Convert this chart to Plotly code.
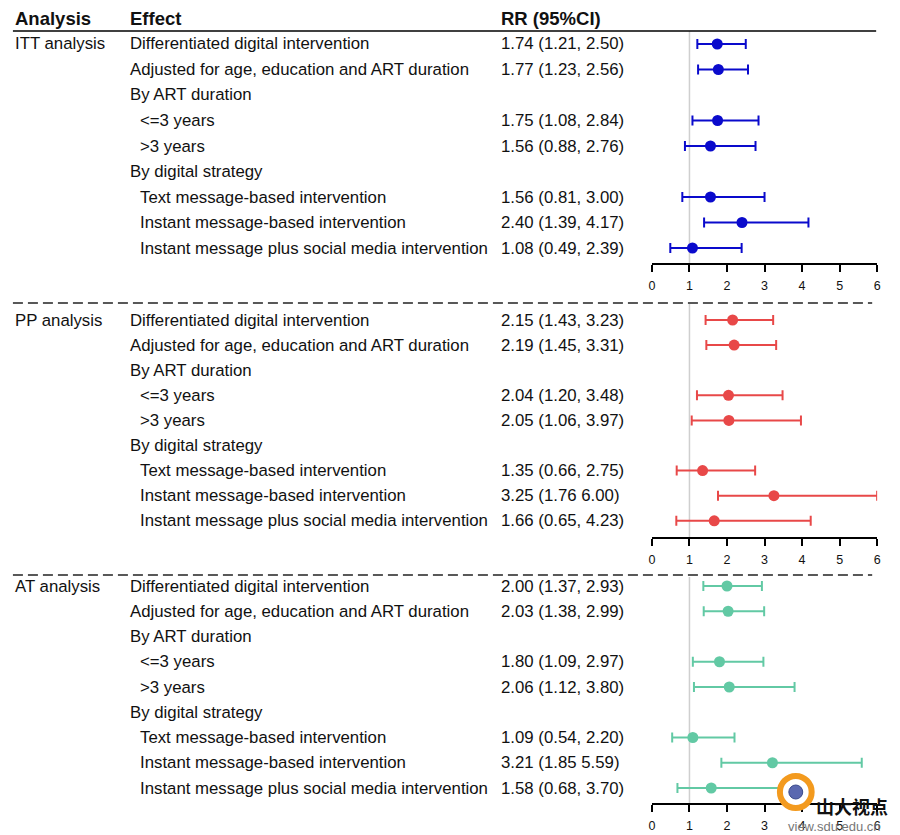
import plotly.graph_objects as go

W, H = 900, 835
FONT = "Liberation Sans, Arial, sans-serif"

# ---------------- data ----------------
header = ["Analysis", "Effect", "RR (95%CI)"]
analyses = ["ITT analysis", "PP analysis", "AT analysis"]
effects = [
    "Differentiated digital intervention",
    "Adjusted for age, education and ART duration",
    "By ART duration",
    "<=3 years",
    ">3 years",
    "By digital strategy",
    "Text message-based intervention",
    "Instant message-based intervention",
    "Instant message plus social media intervention",
]
indent = [0, 0, 0, 1, 1, 0, 1, 1, 1]

itt_rr = [1.74, 1.77, None, 1.75, 1.56, None, 1.56, 2.40, 1.08]
itt_lo = [1.21, 1.23, None, 1.08, 0.88, None, 0.81, 1.39, 0.49]
itt_hi = [2.50, 2.56, None, 2.84, 2.76, None, 3.00, 4.17, 2.39]
itt_txt = ["1.74 (1.21, 2.50)", "1.77 (1.23, 2.56)", "", "1.75 (1.08, 2.84)", "1.56 (0.88, 2.76)",
           "", "1.56 (0.81, 3.00)", "2.40 (1.39, 4.17)", "1.08 (0.49, 2.39)"]

pp_rr = [2.15, 2.19, None, 2.04, 2.05, None, 1.35, 3.25, 1.66]
pp_lo = [1.43, 1.45, None, 1.20, 1.06, None, 0.66, 1.76, 0.65]
pp_hi = [3.23, 3.31, None, 3.48, 3.97, None, 2.75, 6.00, 4.23]
pp_txt = ["2.15 (1.43, 3.23)", "2.19 (1.45, 3.31)", "", "2.04 (1.20, 3.48)", "2.05 (1.06, 3.97)",
          "", "1.35 (0.66, 2.75)", "3.25 (1.76 6.00)", "1.66 (0.65, 4.23)"]

at_rr = [2.00, 2.03, None, 1.80, 2.06, None, 1.09, 3.21, 1.58]
at_lo = [1.37, 1.38, None, 1.09, 1.12, None, 0.54, 1.85, 0.68]
at_hi = [2.93, 2.99, None, 2.97, 3.80, None, 2.20, 5.59, 3.70]
at_txt = ["2.00 (1.37, 2.93)", "2.03 (1.38, 2.99)", "", "1.80 (1.09, 2.97)", "2.06 (1.12, 3.80)",
          "", "1.09 (0.54, 2.20)", "3.21 (1.85 5.59)", "1.58 (0.68, 3.70)"]

x_ticks = [0, 1, 2, 3, 4, 5, 6]
ref_value = 1

colors = ["#0a0acc", "#e84848", "#62c9a4"]
panels = [(itt_rr, itt_lo, itt_hi, itt_txt),
          (pp_rr, pp_lo, pp_hi, pp_txt),
          (at_rr, at_lo, at_hi, at_txt)]

# ---------------- layout geometry (pixels) ----------------
panel_px = [(31, 263), (304, 537), (577, 803)]      # top, bottom (axis line)
row_px = [(44, 25.5), (320, 25.1), (586, 25.25)]    # first row centre, row spacing
x_px = (654, 881)
TXT_DX = -2


def py(p):
    return 1 - p / H


def px(p):
    return p / W


fig = go.Figure()
annotations = []
shapes = []
layout_axes = {}

for k, (rr, lo, hi, txt) in enumerate(panels):
    sfx = "" if k == 0 else str(k + 1)
    xa, ya = "x" + sfx, "y" + sfx
    top, bot = panel_px[k]
    r0, dr = row_px[k]
    y_top = 1 + (top - r0) / dr
    y_bot = 1 + (bot - r0) / dr
    rows = list(range(1, len(effects) + 1))

    idx = [i for i in range(len(rr)) if rr[i] is not None]
    fig.add_trace(go.Scatter(
        x=[rr[i] for i in idx],
        y=[rows[i] for i in idx],
        mode="markers",
        marker=dict(size=11, color=colors[k]),
        error_x=dict(type="data", symmetric=False,
                     array=[hi[i] - rr[i] for i in idx],
                     arrayminus=[rr[i] - lo[i] for i in idx],
                     color=colors[k], thickness=2, width=5),
        xaxis=xa, yaxis=ya, cliponaxis=False, showlegend=False,
        hoverinfo="skip",
    ))

    layout_axes["xaxis" + sfx] = dict(
        domain=[px(x_px[0]), px(x_px[1])], range=[0, 6], anchor=ya,
        showline=True, linecolor="black", linewidth=1.5,
        ticks="outside", ticklen=7, tickwidth=1.5, tickcolor="black",
        tickvals=x_ticks, ticktext=[str(t) for t in x_ticks],
        tickfont=dict(size=12.5, color="#111", family=FONT),
        ticklabelstandoff=3,
        showgrid=False, zeroline=False, fixedrange=True,
    )
    layout_axes["yaxis" + sfx] = dict(
        domain=[py(bot), py(top)], range=[y_bot, y_top], anchor=xa,
        visible=False, showgrid=False, zeroline=False, fixedrange=True,
    )

    # reference line
    shapes.append(dict(type="line", xref=xa, x0=ref_value, x1=ref_value,
                       yref=ya + " domain", y0=0, y1=1,
                       line=dict(color="#cfcfcf", width=1.5), layer="below"))

    # text columns
    annotations.append(dict(text=analyses[k], x=px(12 + TXT_DX), y=rows[0], xref="paper", yref=ya,
                            xanchor="left", yanchor="middle", showarrow=False,
                            font=dict(size=16.8, color="#111", family=FONT)))
    for i, lab in enumerate(effects):
        annotations.append(dict(text=lab.replace("<", "&lt;").replace(">", "&gt;"),
                                x=px(128 + 10 * indent[i] + TXT_DX), y=rows[i],
                                xref="paper", yref=ya, xanchor="left", yanchor="middle",
                                showarrow=False,
                                font=dict(size=16.8, color="#111", family=FONT)))
        if txt[i]:
            annotations.append(dict(text=txt[i], x=px(502 + TXT_DX), y=rows[i],
                                    xref="paper", yref=ya, xanchor="left", yanchor="middle",
                                    showarrow=False,
                                    font=dict(size=16.8, color="#111", family=FONT)))

# headers
for h, xx in zip(header, [12, 128, 502]):
    annotations.append(dict(text="<b>" + h + "</b>", x=px(xx + TXT_DX), y=py(18), xref="paper",
                            yref="paper", xanchor="left", yanchor="middle", showarrow=False,
                            font=dict(size=18.5, color="#111", family=FONT)))

# header rule and dashed separators
shapes.append(dict(type="line", xref="paper", yref="paper", x0=px(10), x1=px(880),
                   y0=py(31), y1=py(31), line=dict(color="black", width=1.6)))
for yy in [303, 575]:
    shapes.append(dict(type="line", xref="paper", yref="paper", x0=px(10), x1=px(876),
                       y0=py(yy), y1=py(yy), line=dict(color="#222", width=1.6, dash="10px,5px")))

# watermark (approximate)
shapes.append(dict(type="circle", xref="paper", yref="paper",
                   x0=px(783), x1=px(815), y0=py(808), y1=py(776),
                   line=dict(color="#f39a1e", width=6), fillcolor="white"))
shapes.append(dict(type="circle", xref="paper", yref="paper",
                   x0=px(792), x1=px(806), y0=py(799), y1=py(785),
                   line=dict(color="#3a4a8a", width=1), fillcolor="#5a68b0"))
annotations.append(dict(text="<b>山大视点</b>", x=px(817), y=py(806), xref="paper", yref="paper",
                        xanchor="left", yanchor="middle", showarrow=False,
                        font=dict(size=18, color="#111", family="Noto Sans CJK SC")))
annotations.append(dict(text="view.sdu.edu.cn", x=px(789), y=py(826), xref="paper", yref="paper",
                        xanchor="left", yanchor="middle", showarrow=False,
                        font=dict(size=13, color="#777", family=FONT)))

fig.update_layout(
    width=W, height=H,
    margin=dict(l=0, r=0, t=0, b=0),
    paper_bgcolor="white", plot_bgcolor="rgba(0,0,0,0)",
    annotations=annotations, shapes=shapes,
    font=dict(family=FONT),
    **layout_axes,
)

fig.write_html("out.html", config={"displayModeBar": False},
               post_script="document.body.style.margin='0';")
